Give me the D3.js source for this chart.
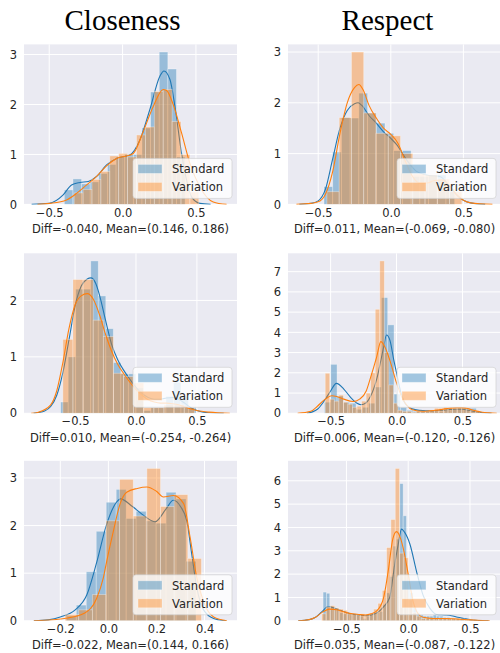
<!DOCTYPE html>
<html>
<head>
<meta charset="utf-8">
<script src="https://cdn.jsdelivr.net/npm/d3@7"></script>
<style>
  body { margin: 0; background: #fff; }
  text { font-family: "DejaVu Sans", sans-serif; fill: #262626; }
  .title { font-family: "Liberation Serif", "Times New Roman", serif; font-size: 29px; fill: #000; }
  .tick text { font-size: 11.5px; }
  .xlabel, .legend-label { font-size: 11.5px; }
</style>
</head>
<body>
<div id="wrapper"></div>
<script>

// 1. Data

const columnTitles = ["Closeness", "Respect"]
const seriesNames = ["Standard", "Variation"]

// histogram bars: first edge, bin width, densities
const c1StdBins = [-0.397, 0.0588]
const c1StdHist = [0.29, 0.51, 0.41, 0.45, 0.62, 0.8, 0.95, 1.0, 1.0, 1.53, 2.25, 3.05, 2.71, 0.95]
const c1VarBins = [-0.33, 0.0607]
const c1VarHist = [0.23, 0.3, 0.5, 0.66, 0.97, 1.02, 0.95, 1.39, 1.55, 2.26, 2.3, 1.66, 1.0, 0.25]

const r1StdBins = [-0.46, 0.06]
const r1StdHist = [0.35, 1.03, 1.71, 1.7, 2.19, 1.8, 1.6, 1.4, 1.06, 1.06, 0.55, 0.55, 0.58, 0.58, 0.3]
const r1VarBins = [-0.44, 0.0845]
const r1VarHist = [0.25, 1.71, 3.0, 1.8, 1.4, 1.35, 1.0, 0.6, 0.58, 0.5, 0.25]

const c2StdBins = [-0.618, 0.0617]
const c2StdHist = [0.2, 1.0, 2.2, 2.2, 2.7, 2.08, 1.5, 0.9, 0.7, 0.7, 0.45, 0.05, 0.1, 0.1, 0.3, 0.55, 0.3, 0.1]
const c2VarBins = [-0.6, 0.083]
const c2VarHist = [1.31, 2.37, 2.37, 1.65, 1.36, 0.71, 0.65, 0.54, 0.1, 0.1, 0.15, 0.15, 0.1]

const r2StdBins = [-0.547, 0.048]
const r2StdHist = [0.55, 2.42, 0.85, 0.55, 0.5, 0.2, 0.3, 0.5, 1.3, 5.72, 4.37, 0.95, 0.3, 0.15,
  0.1, 0.1, 0.1, 0.1, 0.1, 0.15, 0.2, 0.25, 0.25, 0.25]
const r2VarBins = [-0.541, 0.0345]
const r2VarHist = [1.98, 0.7, 0.6, 0.9, 0.55, 0.45, 0.3, 0.35, 0.6, 1.0, 2.0, 5.14, 7.53, 3.0, 1.4, 0.5, 0.15,
  0.1, 0.1, 0.05, 0.1, 0.1, 0.1, 0.15, 0.25, 0.25, 0.3, 0.3, 0.3, 0.3, 0.3, 0.2, 0.15, 0.1]

const c3StdBins = [-0.175, 0.0415]
const c3StdHist = [0.1, 0.33, 1.03, 1.88, 2.49, 2.76, 2.15, 2.3, 2.1, 2.05, 2.7, 2.56, 1.25]
const c3VarBins = [-0.18, 0.0567]
const c3VarHist = [0.13, 0.23, 0.55, 2.1, 2.97, 2.2, 3.2, 2.4, 2.65, 1.31]

const r3StdBins = [-0.689, 0.027]
const r3StdHist = [1.23, 1.18, 0.6, 0.55, 0.5, 0.35, 0.3, 0.3, 0.25, 0.3, 0.25, 0.2, 0.1, 0.2, 0.3, 0.35,
  0.35, 0.4, 0.7, 1.2, 1.9, 3.2, 3.5, 5.88, 4.5, 2.0, 1.2, 0.6, 0.35, 0.25, 0.2, 0.2, 0.2, 0.25,
  0.2, 0.2, 0.15, 0.15, 0.1, 0.1, 0.1, 0.1, 0.05, 0.05, 0.05, 0.05]
const r3VarBins = [-0.70, 0.035]
const r3VarHist = [0.3, 0.6, 0.65, 0.55, 0.5, 0.45, 0.3, 0.3, 0.25, 0.3, 0.25, 0.3, 0.5, 0.75, 1.3, 3.14,
  4.34, 6.53, 2.9, 2.7, 0.9, 0.35, 0.2, 0.1, 0.1, 0.1, 0.1, 0.12, 0.12, 0.12, 0.1, 0.1, 0.08, 0.05, 0.05, 0.05]

// kde curves: [x, density] read at points along each line
const c1StdKde = [[-0.62, 0], [-0.5, 0.02], [-0.405, 0.19], [-0.348, 0.39], [-0.291, 0.44], [-0.234, 0.46],
  [-0.177, 0.56], [-0.109, 0.79], [-0.041, 0.92], [0.05, 0.99], [0.118, 1.29], [0.186, 1.9], [0.255, 2.57],
  [0.282, 2.67], [0.323, 2.5], [0.357, 1.96], [0.402, 1.02], [0.436, 0.49], [0.47, 0.15], [0.527, 0.02], [0.6, 0]]
const c1VarKde = [[-0.58, 0], [-0.495, 0.02], [-0.382, 0.09], [-0.314, 0.22], [-0.245, 0.39], [-0.177, 0.56],
  [-0.109, 0.77], [-0.041, 0.92], [0.027, 0.97], [0.073, 1.02], [0.141, 1.46], [0.209, 1.96], [0.277, 2.3],
  [0.3, 2.28], [0.345, 2.0], [0.402, 1.43], [0.459, 0.82], [0.527, 0.35], [0.618, 0.05], [0.709, 0]]

const r1StdKde = [[-0.63, 0], [-0.55, 0.02], [-0.5, 0.07], [-0.45, 0.3], [-0.4, 0.9], [-0.35, 1.5], [-0.3, 1.85],
  [-0.25, 1.98], [-0.225, 2.0], [-0.2, 1.95], [-0.15, 1.75], [-0.1, 1.6], [-0.053, 1.44], [0, 1.3], [0.039, 1.18],
  [0.108, 0.88], [0.177, 0.65], [0.246, 0.58], [0.338, 0.55], [0.407, 0.35], [0.453, 0.19], [0.5, 0.08],
  [0.55, 0.03], [0.65, 0]]
const r1VarKde = [[-0.65, 0], [-0.55, 0.02], [-0.5, 0.05], [-0.45, 0.2], [-0.4, 0.65], [-0.35, 1.4], [-0.3, 2.0],
  [-0.25, 2.3], [-0.22, 2.36], [-0.19, 2.25], [-0.15, 1.95], [-0.1, 1.7], [-0.05, 1.5], [0, 1.38], [0.05, 1.2],
  [0.1, 0.85], [0.15, 0.55], [0.2, 0.42], [0.25, 0.42], [0.3, 0.47], [0.35, 0.48], [0.4, 0.38], [0.45, 0.2],
  [0.5, 0.08], [0.55, 0.03], [0.7, 0]]

const c2StdKde = [[-0.84, 0], [-0.75, 0.04], [-0.7, 0.12], [-0.65, 0.32], [-0.6, 0.72], [-0.55, 1.3], [-0.5, 1.9],
  [-0.45, 2.25], [-0.4, 2.38], [-0.37, 2.4], [-0.33, 2.3], [-0.3, 2.1], [-0.25, 1.65], [-0.2, 1.22], [-0.15, 0.95],
  [-0.1, 0.76], [-0.05, 0.6], [0, 0.46], [0.05, 0.35], [0.1, 0.28], [0.15, 0.25], [0.2, 0.25], [0.25, 0.27],
  [0.3, 0.28], [0.35, 0.25], [0.4, 0.18], [0.45, 0.1], [0.5, 0.05], [0.6, 0.01], [0.72, 0]]
const c2VarKde = [[-0.86, 0], [-0.8, 0.02], [-0.7, 0.15], [-0.65, 0.4], [-0.6, 0.9], [-0.55, 1.5], [-0.5, 1.92],
  [-0.45, 2.08], [-0.4, 2.12], [-0.35, 2.02], [-0.3, 1.75], [-0.25, 1.4], [-0.2, 1.1], [-0.15, 0.87], [-0.1, 0.7],
  [-0.05, 0.55], [0, 0.42], [0.05, 0.32], [0.1, 0.24], [0.15, 0.2], [0.2, 0.18], [0.25, 0.18], [0.3, 0.17],
  [0.35, 0.15], [0.4, 0.11], [0.5, 0.05], [0.6, 0.02], [0.77, 0]]

const r2StdKde = [[-0.68, 0], [-0.6, 0.2], [-0.55, 0.6], [-0.5, 1.1], [-0.456, 1.48], [-0.4, 1.2], [-0.35, 0.8],
  [-0.3, 0.5], [-0.27, 0.42], [-0.23, 0.52], [-0.2, 0.8], [-0.15, 1.7], [-0.1, 3.2], [-0.076, 3.87], [-0.05, 3.6],
  [-0.02, 2.6], [0, 2.0], [0.03, 1.1], [0.06, 0.55], [0.1, 0.28], [0.15, 0.17], [0.2, 0.13], [0.25, 0.12],
  [0.3, 0.13], [0.35, 0.15], [0.4, 0.18], [0.45, 0.2], [0.5, 0.2], [0.55, 0.15], [0.6, 0.08], [0.65, 0.03], [0.72, 0]]
const r2VarKde = [[-0.75, 0], [-0.65, 0.1], [-0.6, 0.35], [-0.55, 0.65], [-0.49, 0.87], [-0.45, 0.82], [-0.4, 0.7],
  [-0.33, 0.58], [-0.28, 0.7], [-0.23, 1.1], [-0.2, 1.7], [-0.15, 2.8], [-0.119, 3.54], [-0.09, 3.3], [-0.05, 2.6],
  [0, 1.5], [0.04, 0.8], [0.08, 0.38], [0.12, 0.18], [0.2, 0.1], [0.25, 0.12], [0.3, 0.15], [0.35, 0.2],
  [0.4, 0.25], [0.45, 0.28], [0.5, 0.28], [0.55, 0.22], [0.6, 0.12], [0.65, 0.05], [0.7, 0.02], [0.76, 0]]

const c3StdKde = [[-0.31, 0], [-0.25, 0.02], [-0.2, 0.08], [-0.138, 0.23], [-0.09, 0.54], [-0.049, 1.22],
  [-0.007, 2.03], [0.035, 2.5], [0.05, 2.56], [0.1, 2.4], [0.15, 2.2], [0.194, 2.08], [0.24, 2.35], [0.27, 2.53],
  [0.3, 2.4], [0.326, 2.1], [0.347, 1.39], [0.368, 0.69], [0.396, 0.23], [0.438, 0.05], [0.49, 0]]
const c3VarKde = [[-0.31, 0], [-0.17, 0.06], [-0.1, 0.16], [-0.049, 0.47], [-0.021, 0.9], [-0.007, 1.25],
  [0.021, 1.89], [0.049, 2.46], [0.076, 2.7], [0.12, 2.78], [0.16, 2.81], [0.2, 2.72], [0.229, 2.6], [0.271, 2.63],
  [0.313, 2.46], [0.34, 1.75], [0.368, 0.9], [0.396, 0.4], [0.438, 0.08], [0.493, 0]]

const r3StdKde = [[-0.89, 0], [-0.8, 0.05], [-0.75, 0.15], [-0.7, 0.38], [-0.649, 0.61], [-0.6, 0.55],
  [-0.55, 0.45], [-0.5, 0.35], [-0.45, 0.28], [-0.4, 0.25], [-0.35, 0.22], [-0.3, 0.25], [-0.25, 0.35],
  [-0.2, 0.6], [-0.15, 1.0], [-0.11, 2.4], [-0.08, 3.3], [-0.054, 3.93], [-0.03, 3.8], [0.014, 3.28],
  [0.068, 2.1], [0.12, 1.1], [0.176, 0.53], [0.23, 0.27], [0.3, 0.25], [0.35, 0.22], [0.4, 0.15], [0.45, 0.1],
  [0.5, 0.05], [0.55, 0.02], [0.65, 0]]
const r3VarKde = [[-0.89, 0], [-0.8, 0.05], [-0.75, 0.15], [-0.7, 0.35], [-0.635, 0.5], [-0.58, 0.47],
  [-0.5, 0.35], [-0.45, 0.3], [-0.4, 0.27], [-0.35, 0.25], [-0.3, 0.3], [-0.25, 0.45], [-0.2, 0.97],
  [-0.16, 2.2], [-0.125, 3.5], [-0.095, 3.82], [-0.06, 3.5], [-0.04, 3.1], [0, 2.0], [0.04, 0.82], [0.08, 0.3],
  [0.12, 0.15], [0.2, 0.1], [0.3, 0.1], [0.4, 0.08], [0.5, 0.04], [0.6, 0.01], [0.66, 0]]

// axis limits and ticks, x labels
const xLimits = [[-0.672, 0.78], [-0.708, 0.759], [-0.919, 0.829], [-0.823, 0.792], [-0.351, 0.535], [-0.973, 0.751]]
const xTickValues = [[-0.5, 0, 0.5], [-0.5, 0, 0.5], [-0.5, 0, 0.5], [-0.5, 0, 0.5], [-0.2, 0, 0.2, 0.4], [-0.5, 0, 0.5]]
const xLabels = [
  "Diff=-0.040, Mean=(0.146, 0.186)",
  "Diff=0.011, Mean=(-0.069, -0.080)",
  "Diff=0.010, Mean=(-0.254, -0.264)",
  "Diff=0.006, Mean=(-0.120, -0.126)",
  "Diff=-0.022, Mean=(0.144, 0.166)",
  "Diff=0.035, Mean=(-0.087, -0.122)",
]

const panels = [
  { std: [c1StdBins, c1StdHist, c1StdKde], vari: [c1VarBins, c1VarHist, c1VarKde] },
  { std: [r1StdBins, r1StdHist, r1StdKde], vari: [r1VarBins, r1VarHist, r1VarKde] },
  { std: [c2StdBins, c2StdHist, c2StdKde], vari: [c2VarBins, c2VarHist, c2VarKde] },
  { std: [r2StdBins, r2StdHist, r2StdKde], vari: [r2VarBins, r2VarHist, r2VarKde] },
  { std: [c3StdBins, c3StdHist, c3StdKde], vari: [c3VarBins, c3VarHist, c3VarKde] },
  { std: [r3StdBins, r3StdHist, r3StdKde], vari: [r3VarBins, r3VarHist, r3VarKde] },
]

// 2. Dimensions

const dimensions = {
  width: 500,
  height: 653,
  plotWidth: 213,
  plotHeight: 160,
  colX: [24, 288],
  rowY: [44.4, 253.3, 460.8],
}
const colors = ["#1f77b4", "#ff7f0e"]

// 3. Draw canvas

const svg = d3.select("#wrapper")
  .append("svg")
    .attr("width", dimensions.width)
    .attr("height", dimensions.height)

svg.selectAll(".title")
  .data(columnTitles)
  .enter().append("text")
    .attr("class", "title")
    .attr("x", (d, i) => [122.5, 387.5][i])
    .attr("y", 30)
    .attr("text-anchor", "middle")
    .text(d => d)

const toBars = ([start, width], heights) => heights.map((h, i) => ({
  x0: start + i * width,
  x1: start + (i + 1) * width,
  h,
}))

panels.forEach((panel, p) => {
  const col = p % 2
  const row = Math.floor(p / 2)
  const w = dimensions.plotWidth
  const h = dimensions.plotHeight

  const bounds = svg.append("g")
    .attr("transform", `translate(${dimensions.colX[col]}, ${dimensions.rowY[row]})`)

  const series = [panel.std, panel.vari]
  const yMax = d3.max(series, s => d3.max(s[1])) * 1.05

  // 4. Scales
  const xScale = d3.scaleLinear().domain(xLimits[p]).range([0, w])
  const yScale = d3.scaleLinear().domain([0, yMax]).range([h, 0])

  bounds.append("rect")
    .attr("width", w)
    .attr("height", h)
    .attr("fill", "#eaeaf2")

  const clipId = `clip-${p}`
  bounds.append("clipPath").attr("id", clipId)
    .append("rect").attr("width", w).attr("height", h)

  // grid
  const yTickValues = d3.range(0, Math.floor(yMax) + 1)
  bounds.append("g")
    .selectAll("line")
    .data(xTickValues[p])
    .enter().append("line")
      .attr("x1", d => xScale(d)).attr("x2", d => xScale(d))
      .attr("y1", 0).attr("y2", h)
      .attr("stroke", "#fff").attr("stroke-width", 1)
  bounds.append("g")
    .selectAll("line")
    .data(yTickValues)
    .enter().append("line")
      .attr("x1", 0).attr("x2", w)
      .attr("y1", d => yScale(d)).attr("y2", d => yScale(d))
      .attr("stroke", "#fff").attr("stroke-width", 1)

  // 5. Draw data: hist then kde for each series
  const lineGenerator = d3.line()
    .x(d => xScale(d[0]))
    .y(d => yScale(d[1]))
    .curve(d3.curveMonotoneX)

  const dataGroup = bounds.append("g").attr("clip-path", `url(#${clipId})`)
  series.forEach((s, si) => {
    dataGroup.append("g")
      .selectAll("rect")
      .data(toBars(s[0], s[1]))
      .enter().append("rect")
        .attr("x", d => xScale(d.x0))
        .attr("width", d => xScale(d.x1) - xScale(d.x0))
        .attr("y", d => yScale(d.h))
        .attr("height", d => yScale(0) - yScale(d.h))
        .attr("fill", colors[si])
        .attr("fill-opacity", 0.4)
        .attr("stroke", "#fff")
        .attr("stroke-opacity", 0.4)
        .attr("stroke-width", 0.8)

    dataGroup.append("path")
      .datum(s[2])
      .attr("d", lineGenerator)
      .attr("fill", "none")
      .attr("stroke", colors[si])
      .attr("stroke-width", 1.1)
  })

  // 6. Peripherals
  const xAxis = d3.axisBottom(xScale)
    .tickValues(xTickValues[p])
    .tickFormat(d3.format(".1f"))
    .tickSize(0)
    .tickPadding(4)
  bounds.append("g")
    .attr("transform", `translate(0, ${h})`)
    .call(xAxis)
    .call(g => g.select(".domain").remove())

  const yAxis = d3.axisLeft(yScale)
    .tickValues(yTickValues)
    .tickFormat(d3.format("d"))
    .tickSize(0)
    .tickPadding(7)
  bounds.append("g")
    .call(yAxis)
    .call(g => g.select(".domain").remove())

  bounds.selectAll(".tick text").attr("fill", "#262626").style("font-family", "DejaVu Sans")

  bounds.append("text")
    .attr("class", "xlabel")
    .attr("x", w / 2)
    .attr("y", h + 28.7)
    .attr("text-anchor", "middle")
    .text(xLabels[p])

  // legend, lower right
  const legend = bounds.append("g")
    .attr("transform", `translate(${w - 104}, ${h - 46})`)
  legend.append("rect")
    .attr("width", 99)
    .attr("height", 40)
    .attr("rx", 3)
    .attr("fill", "#fff")
    .attr("fill-opacity", 0.8)
    .attr("stroke", "#cccccc")
    .attr("stroke-opacity", 0.8)
    .attr("stroke-width", 0.8)
  const items = legend.selectAll(".legend-item")
    .data(seriesNames)
    .enter().append("g")
      .attr("class", "legend-item")
      .attr("transform", (d, i) => `translate(5, ${6 + i * 18})`)
  items.append("rect")
    .attr("width", 24)
    .attr("height", 9)
    .attr("fill", (d, i) => colors[i])
    .attr("fill-opacity", 0.4)
    .attr("stroke", "#fff")
    .attr("stroke-opacity", 0.4)
    .attr("stroke-width", 0.8)
  items.append("text")
    .attr("class", "legend-label")
    .attr("x", 34)
    .attr("y", 9)
    .text(d => d)
})
</script>
</body>
</html>
